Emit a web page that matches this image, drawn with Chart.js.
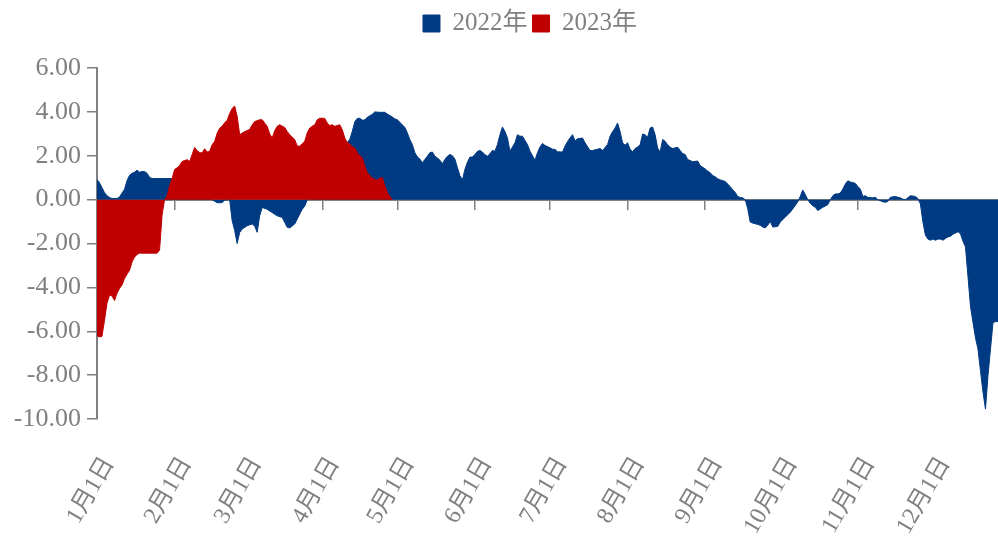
<!DOCTYPE html>
<html>
<head>
<meta charset="utf-8">
<script src="https://cdn.jsdelivr.net/npm/chart.js@4"></script>
<style>
html,body{margin:0;padding:0;background:#fff;overflow:hidden;}
#wrap{width:998px;height:536px;position:relative;}
</style>
</head>
<body>
<div id="wrap"><canvas id="c"></canvas></div>
<script>
// Month-start tick positions (day of year, 0 = Jan 1) and their labels
const monthStartDays = [0, 31, 59, 90, 120, 151, 181, 212, 243, 273, 304, 334];
const monthLabels = ['1月1日','2月1日','3月1日','4月1日','5月1日','6月1日','7月1日','8月1日','9月1日','10月1日','11月1日','12月1日'];
const yTicks = [-10, -8, -6, -4, -2, 0, 2, 4, 6];

const seriesNames = ['2022年', '2023年'];

// 2022 series: day of year and value
const days2022 = [0,1,2,3,4,5,6,8,9,10,11,12,13,14,15,16,17,18,19,20,21,22,30,33,38,44,46,48,50,51,53,54,55,56,57,58,60,62,63,64,65,66,68,70,72,74,76,77,79,81,82,83,84,90,96,100,101,102,103,104,105,106,107,108,110,111,113,115,116,118,119,120,121,122,123,124,125,126,127,128,129,130,131,132,133,134,135,136,137,138,139,140,141,142,143,144,145,146,147,148,149,150,151,152,153,154,155,156,157,158,159,160,161,162,163,164,165,166,167,168,169,170,171,172,173,174,175,176,177,178,179,181,182,183,184,186,187,188,189,190,191,192,194,195,197,198,200,201,202,204,205,206,207,208,209,210,211,212,213,214,215,216,217,218,219,220,221,222,223,224,225,226,227,228,229,230,232,233,234,235,236,238,240,241,243,244,245,246,247,248,249,251,253,254,255,256,257,258,259,260,261,262,264,265,266,267,268,269,270,272,273,275,277,279,280,281,282,283,284,285,286,287,288,290,292,293,294,295,296,297,298,299,300,301,302,303,304,305,306,307,308,310,311,312,313,314,315,316,317,319,321,322,323,325,327,328,329,330,331,332,333,334,335,336,337,338,339,340,341,342,344,345,346,347,348,349,350,351,352,353,354,355,356,358,359,360];
const values2022 = [0.92,0.77,0.54,0.32,0.18,0.1,0.05,0.05,0.12,0.3,0.47,0.87,1.11,1.2,1.25,1.34,1.25,1.28,1.28,1.2,1.02,0.96,0.96,0.9,0.5,0.15,0.0,-0.14,-0.14,-0.02,0.0,-0.96,-1.4,-2.0,-1.5,-1.34,-1.19,-1.11,-1.2,-1.49,-0.74,-0.36,-0.44,-0.59,-0.74,-0.81,-1.26,-1.29,-1.11,-0.66,-0.44,-0.3,0.0,1.2,2.0,2.6,2.75,3.11,3.55,3.7,3.71,3.62,3.64,3.75,3.89,4.0,3.98,3.98,3.9,3.77,3.68,3.64,3.53,3.4,3.3,3.04,2.74,2.51,2.14,1.95,1.85,1.68,1.83,1.98,2.14,2.17,1.98,1.9,1.8,1.64,1.83,1.98,2.06,2.0,1.85,1.46,1.1,0.89,1.38,1.7,1.94,1.94,2.06,2.2,2.24,2.17,2.05,1.98,2.09,2.24,2.21,2.51,2.96,3.31,3.1,2.81,2.21,2.4,2.59,2.96,2.89,2.89,2.7,2.51,2.21,2.0,1.79,2.14,2.4,2.56,2.47,2.36,2.3,2.29,2.18,2.17,2.44,2.65,2.81,2.96,2.68,2.77,2.81,2.59,2.24,2.24,2.3,2.33,2.24,2.51,2.89,3.1,3.26,3.49,3.11,2.59,2.48,2.59,2.3,2.18,2.33,2.4,2.5,2.99,2.96,2.84,3.26,3.31,2.96,2.35,2.17,2.74,2.66,2.5,2.39,2.33,2.39,2.24,2.1,2.06,1.83,1.73,1.76,1.55,1.4,1.3,1.23,1.1,1.04,0.95,0.9,0.83,0.59,0.45,0.33,0.14,0.1,0.08,0.0,-0.42,-1.02,-1.07,-1.13,-1.17,-1.25,-1.29,-1.17,-0.99,-1.25,-1.22,-1.02,-0.8,-0.57,-0.27,-0.1,0.15,0.44,0.23,0.0,-0.17,-0.28,-0.35,-0.5,-0.35,-0.23,0.0,0.18,0.26,0.26,0.3,0.48,0.71,0.86,0.8,0.78,0.74,0.6,0.48,0.14,0.18,0.1,0.08,0.11,0.0,-0.05,-0.1,-0.12,-0.08,0.11,0.14,0.08,0.02,0.0,0.18,0.14,0.05,-0.2,-1.02,-1.62,-1.8,-1.85,-1.8,-1.85,-1.8,-1.8,-1.85,-1.77,-1.7,-1.67,-1.58,-1.46,-1.55,-1.9,-2.15,-3.5,-4.86,-5.6,-6.3,-6.81,-7.8,-8.77,-9.55,-8.02,-5.61,-5.56,-5.56];

// 2023 series: day of year and value
const days2023 = [0,1,2,3,4,5,6,7,8,9,10,11,12,13,14,15,16,17,24,25,26,27,28,29,30,31,32,33,34,36,37,38,39,40,41,42,43,44,45,46,47,48,49,50,51,52,53,54,55,56,57,59,60,61,62,63,64,65,66,67,68,69,70,71,72,73,74,75,76,77,78,79,80,81,82,83,84,85,86,87,88,89,90,91,92,93,94,95,96,97,98,99,100,101,102,103,104,105,106,107,108,110,111,112,113,114,115,116,117,118];
const values2023 = [-6.2,-6.26,-6.23,-5.5,-4.72,-4.35,-4.39,-4.6,-4.27,-4.05,-3.89,-3.59,-3.4,-3.22,-2.84,-2.62,-2.5,-2.44,-2.44,-2.3,-0.7,0.0,0.17,0.62,0.96,1.37,1.45,1.56,1.74,1.82,1.74,2.05,2.38,2.23,2.15,2.12,2.32,2.17,2.2,2.5,2.65,3.02,3.25,3.35,3.5,3.62,3.92,4.15,4.27,3.8,2.96,3.1,3.15,3.2,3.41,3.56,3.6,3.64,3.64,3.49,3.34,3.0,2.81,3.14,3.34,3.41,3.35,3.29,3.11,2.96,2.85,2.74,2.44,2.44,2.55,2.66,3.04,3.26,3.35,3.41,3.64,3.71,3.71,3.7,3.49,3.38,3.41,3.34,3.38,3.41,3.19,2.81,2.6,2.54,2.4,2.36,2.14,2.0,1.91,1.53,1.23,0.98,0.92,0.89,0.98,1.0,0.63,0.33,0.14,0.0];

const colors = ['#003A82', '#C00000'];
const gray = '#808080';
const fontFamily = "'Liberation Serif', 'Noto Sans CJK SC', serif";

const toPoints = (ds, vs) => ds.map((d, i) => ({x: d, y: vs[i]}));

const monthTicks = (axis) => { axis.ticks = monthStartDays.map(v => ({value: v})); };

// Legend: shift right and leave a gap below it
const legendTweak = {
  id: 'legendTweak',
  beforeLayout(chart) {
    const l = chart.legend;
    if (l && !l._gapPatched) {
      const origFit = l.fit.bind(l);
      l.fit = function () { origFit(); this.height += 22; };
      l._gapPatched = true;
    }
  },
  afterLayout(chart) {
    const l = chart.legend;
    if (l) { l.left += 31; l.right += 31; }
  }
};

new Chart(document.getElementById('c'), {
  type: 'line',
  data: {
    datasets: [
      {
        label: seriesNames[0],
        data: toPoints(days2022, values2022),
        borderColor: colors[0],
        backgroundColor: colors[0],
        borderWidth: 1,
        pointRadius: 0,
        tension: 0,
        fill: 'origin',
        order: 2
      },
      {
        label: seriesNames[1],
        data: toPoints(days2023, values2023),
        borderColor: colors[1],
        backgroundColor: colors[1],
        borderWidth: 1,
        pointRadius: 0,
        tension: 0,
        fill: 'origin',
        order: 1
      }
    ]
  },
  options: {
    responsive: true,
    maintainAspectRatio: false,
    animation: false,
    layout: { padding: { top: 6, left: 0, right: 0, bottom: 0 } },
    plugins: {
      legend: {
        display: true,
        position: 'top',
        labels: {
          boxWidth: 17,
          boxHeight: 17,
          padding: 5,
          color: gray,
          font: { family: fontFamily, size: 25 },
          sort: (a, b) => a.datasetIndex - b.datasetIndex
        }
      },
      tooltip: { enabled: false }
    },
    scales: {
      x: {
        type: 'linear',
        position: 'bottom',
        min: 0,
        max: 360,
        afterBuildTicks: monthTicks,
        afterFit: (s) => { s.height = 117; },
        grid: { display: false, drawTicks: false },
        border: { display: false },
        ticks: {
          autoSkip: false,
          minRotation: 60,
          maxRotation: 60,
          padding: 33,
          labelOffset: 12,
          color: gray,
          font: { family: fontFamily, size: 24 },
          callback: (v, i) => monthLabels[i]
        }
      },
      x0: {
        type: 'linear',
        axis: 'x',
        position: { y: 0 },
        min: 0,
        max: 360,
        z: 1,
        afterBuildTicks: monthTicks,
        grid: { drawOnChartArea: false, drawTicks: true, tickLength: 9, color: gray, lineWidth: 1.5 },
        border: { display: true, color: gray, width: 2 },
        ticks: { display: false, autoSkip: false }
      },
      y: {
        type: 'linear',
        min: -10,
        max: 6,
        z: 1,
        afterBuildTicks: (axis) => { axis.ticks = yTicks.map(v => ({value: v})); },
        afterFit: (s) => { s.width = 97; },
        grid: { drawOnChartArea: false, drawTicks: true, tickLength: 10, color: gray, lineWidth: 1.5 },
        border: { display: true, color: gray, width: 2 },
        ticks: {
          padding: 6,
          color: gray,
          font: { family: fontFamily, size: 26 },
          callback: (v) => Number(v).toFixed(2)
        }
      }
    }
  },
  plugins: [legendTweak]
});
</script>
</body>
</html>
